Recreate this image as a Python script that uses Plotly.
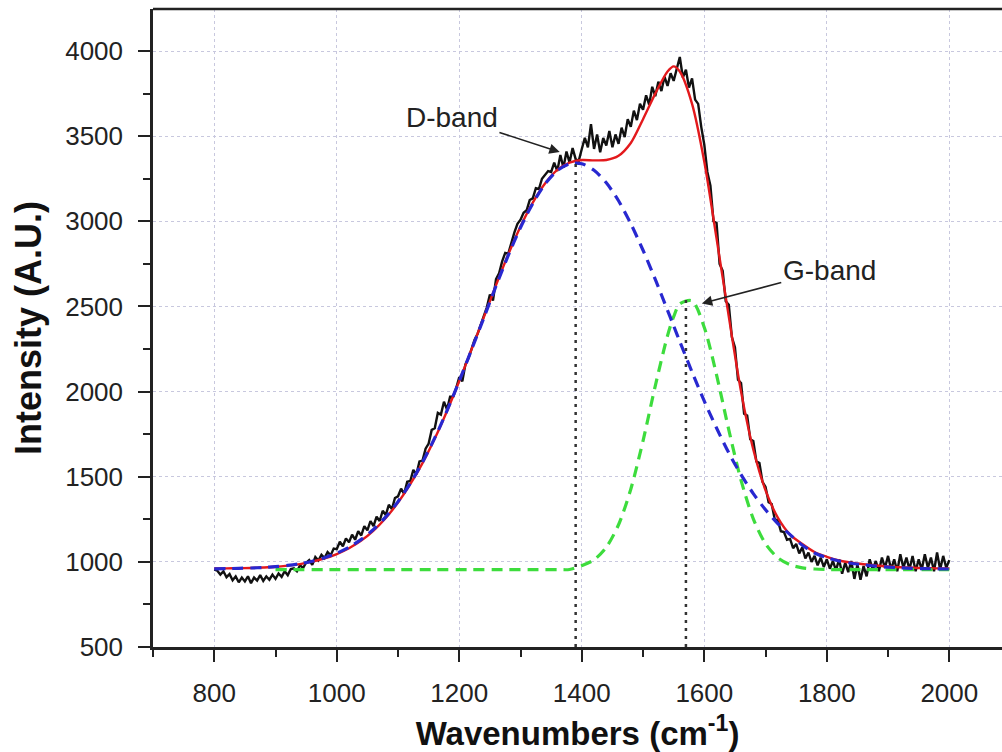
import plotly.graph_objects as go

# ---------------- data ----------------
# measured Raman spectrum, 5 cm-1 sampling from 800 to 2000
spec_x = list(range(800, 2001, 5))
spec_y = [
    955, 948, 925, 945, 910, 928, 892, 915, 880, 908,
    885, 915, 875, 908, 890, 922, 888, 915, 895, 925,
    900, 932, 912, 945, 922, 958, 962, 945, 980, 965,
    995, 1010, 982, 1028, 1008, 1042, 1022, 1058, 1038, 1078,
    1075, 1118, 1092, 1138, 1115, 1160, 1130, 1180, 1155, 1210,
    1185, 1240, 1210, 1265, 1240, 1300, 1275, 1335, 1310, 1375,
    1385, 1430, 1400, 1470, 1475, 1540, 1515, 1590, 1595, 1665,
    1695, 1775, 1785, 1875, 1865, 1940, 1895, 1970, 1970, 2020,
    2085, 2060, 2160, 2195, 2250, 2305, 2340, 2395, 2445, 2495,
    2570, 2535, 2660, 2695, 2765, 2815, 2810, 2875, 2935, 2985,
    3010, 3050, 3065, 3125, 3135, 3195, 3190, 3250, 3275, 3295,
    3290, 3345, 3295, 3390, 3315, 3410, 3345, 3430, 3365, 3355,
    3425, 3490, 3435, 3570, 3425, 3510, 3405, 3490, 3445, 3530,
    3435, 3510, 3455, 3550, 3495, 3600, 3555, 3650, 3595, 3690,
    3655, 3740, 3685, 3790, 3735, 3820, 3765, 3850, 3795, 3870,
    3825, 3890, 3965, 3845, 3890, 3785, 3840, 3715, 3690, 3555,
    3450, 3290, 3210, 3000, 2990, 2750, 2710, 2530, 2510, 2320,
    2260, 2070, 2050, 1870, 1860, 1720, 1710, 1590, 1580, 1470,
    1440, 1350, 1340, 1250, 1245, 1180, 1175, 1130, 1135, 1080,
    1105, 1050, 1085, 1020, 1055, 1000, 1035, 980, 1025, 970,
    1015, 960, 1005, 950, 1015, 930, 995, 940, 1005, 900,
    985, 895, 975, 915, 1015, 955, 1005, 945, 1025, 965,
    1035, 955, 1015, 945, 1045, 965, 1025, 955, 1035, 945,
    1015, 955, 1045, 965, 1025, 945, 1055, 955, 1035, 965,
    1010,
]

# fitted curves
fit_x = list(range(800, 1541, 20)) + [1550] + list(range(1560, 2001, 20))
fit_total = [
    962, 962, 963, 964, 967, 971, 978, 987, 1001, 1020,
    1046, 1080, 1125, 1184, 1258, 1348, 1456, 1580, 1724, 1886,
    2062, 2248, 2436, 2625, 2806, 2970, 3110, 3222, 3302, 3345,
    3360, 3358, 3360, 3385, 3460, 3600, 3750, 3880, 3910, 3880,
    3690, 3350, 2900, 2440, 2000, 1660, 1420, 1260, 1160, 1105,
    1058, 1030, 1008, 995, 986, 979, 973, 968, 965, 963,
    962, 961,
]
d_band = [
    959, 960, 962, 964, 967, 972, 979, 989, 1004, 1024,
    1051, 1086, 1132, 1191, 1264, 1354, 1461, 1585, 1728, 1888,
    2062, 2246, 2432, 2620, 2800, 2964, 3105, 3219, 3298, 3338,
    3338, 3300, 3226, 3121, 2986, 2830, 2659, 2477, 2386, 2294,
    2115, 1944, 1786, 1640, 1512, 1401, 1306, 1225, 1160, 1098,
    1052, 1025, 1005, 992, 983, 975, 969, 965, 962, 960,
    959, 958,
]
g_band = [
    None, None, None, None, None,
    955, 955, 955, 955, 955, 955, 955, 955, 955, 955,
    955, 955, 955, 955, 955, 955, 955, 955, 955, 955,
    955, 955, 955, 955, 955,
    978, 1012, 1086, 1218, 1427, 1711, 2034, 2329, 2440,
    2515, 2533, 2377, 2098, 1775, 1479, 1253, 1106, 1024, 983, 965, 958,
    955, 955, 955, 955, 955, 955, 955, 955, 955, 955, 955,
]

# band positions (dotted markers) and their peak heights
band_pos = [1390, 1570]
band_top = [3340, 2545]
band_names = ["D-band", "G-band"]
# arrow heads and label positions (data units)
arrow_head_x = [1364, 1596]
arrow_head_y = [3407, 2518]
label_x = [1188, 1804]
label_y = [3612, 2714]

x_ticks = [800, 1000, 1200, 1400, 1600, 1800, 2000]
y_ticks = [500, 1000, 1500, 2000, 2500, 3000, 3500, 4000]

FONT = "Liberation Sans, Arial, sans-serif"

fig = go.Figure()

fig.add_trace(go.Scatter(x=spec_x, y=spec_y, mode="lines",
                         line=dict(color="#111111", width=2.4), hoverinfo="skip"))
fig.add_trace(go.Scatter(x=fit_x, y=fit_total, mode="lines",
                         line=dict(color="#e3191c", width=2.4, shape="spline", smoothing=0.8)))
fig.add_trace(go.Scatter(x=fit_x, y=g_band, mode="lines",
                         line=dict(color="#3ddc3d", width=3.2, dash="11px,7px", shape="spline", smoothing=0.8)))
fig.add_trace(go.Scatter(x=fit_x, y=d_band, mode="lines",
                         line=dict(color="#2828d0", width=3.2, dash="11px,7px", shape="spline", smoothing=0.8)))

for bx, bt in zip(band_pos, band_top):
    fig.add_trace(go.Scatter(x=[bx, bx], y=[500, bt], mode="lines",
                             line=dict(color="#333333", width=2.5, dash="3px,5px")))

for name, hx, hy, lx, ly in zip(band_names, arrow_head_x, arrow_head_y, label_x, label_y):
    fig.add_annotation(x=hx, y=hy, ax=lx, ay=ly, axref="x", ayref="y",
                       text=name, showarrow=True, arrowhead=2, arrowsize=1.3,
                       arrowwidth=1.6, arrowcolor="#222222", standoff=0,
                       font=dict(family=FONT, size=28, color="#222222"))

# top frame line (the reference is cut off on the right, so no right frame)
fig.add_shape(type="line", xref="paper", yref="paper", x0=0, x1=1, y0=1, y1=1,
              line=dict(color="#222222", width=2.5), layer="above")

axis_common = dict(
    showline=True, linecolor="#222222", linewidth=2.5,
    ticks="outside", ticklen=12, tickwidth=2, tickcolor="#222222",
    showgrid=True, gridcolor="#c8c8de", gridwidth=1, griddash="dot",
    zeroline=False,
    tickfont=dict(family=FONT, size=26, color="#222222"),
)

fig.update_xaxes(
    **axis_common,
    range=[700, 2086], tickvals=x_ticks, mirror=False,
    minor=dict(ticks="outside", ticklen=7, tickwidth=2, tickcolor="#222222",
               dtick=100, tick0=700, showgrid=False),
    ticklabelstandoff=9,
    title=dict(text="<b>Wavenumbers (cm<sup>-1</sup>)</b>", standoff=15,
               font=dict(family=FONT, size=33, color="#111111")),
)
fig.update_yaxes(
    **axis_common,
    range=[500, 4247], tickvals=y_ticks, mirror=False,
    minor=dict(ticks="outside", ticklen=7, tickwidth=2, tickcolor="#222222",
               dtick=250, tick0=500, showgrid=False),
    ticklabelstandoff=10,
    title=dict(text="<b>Intensity (A.U.)</b>", standoff=13,
               font=dict(family=FONT, size=36, color="#111111")),
)

fig.update_layout(
    width=1002, height=752,
    margin=dict(l=153, r=0, t=9, b=105),
    paper_bgcolor="white", plot_bgcolor="white",
    showlegend=False,
)

fig.write_html("out.html", config={"displayModeBar": False})
